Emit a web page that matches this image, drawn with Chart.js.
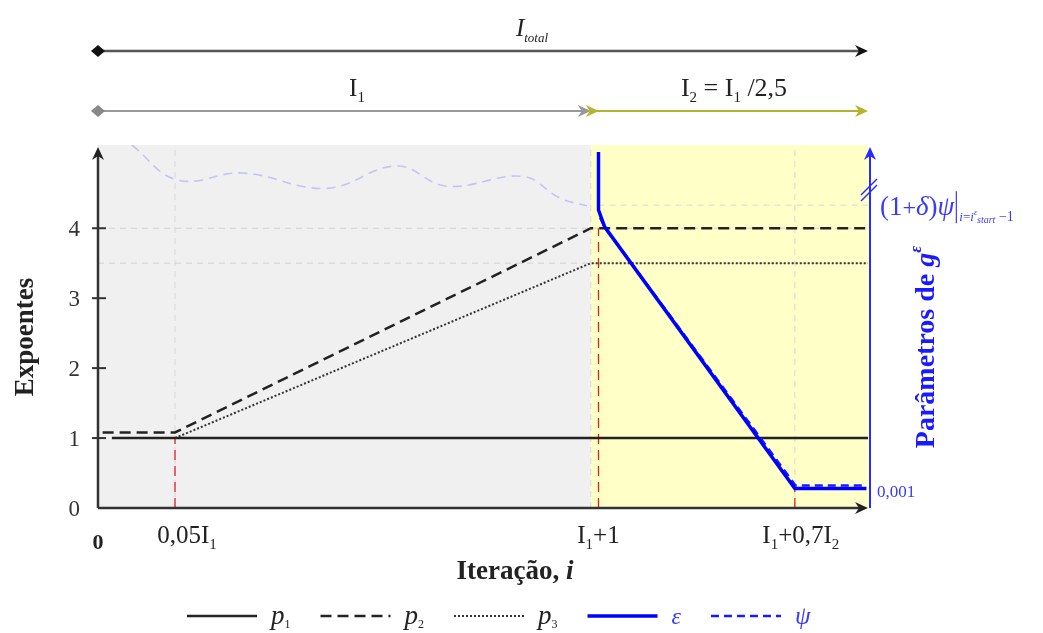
<!DOCTYPE html>
<html>
<head>
<meta charset="utf-8">
<script src="https://cdn.jsdelivr.net/npm/chart.js@4"></script>
<style>html,body{margin:0;padding:0;background:#fff}</style>
</head>
<body>
<canvas id="c" width="1043" height="633"></canvas>
<script>
// schematic x axis: 0 = start, 64 = I1, 100 = end of I_total
const xTickVals = [0, 10, 65, 90.5];
const phaseBreak = 64;
const xEnd = 100;
const yTickVals = [0, 1, 2, 3, 4];

// exponent curves
const p1X = [1.8, 100];
const p1Y = [1, 1];
const p2X = [0.6, 10, 64, 100];
const p2Y = [1.08, 1.08, 4, 4];
const p3X = [10, 64, 100];
const p3Y = [1, 3.5, 3.5];

// g^eps parameters
const epsX = [65, 65, 65.8, 90.5, 99.8];
const epsY = [5.09, 4.26, 4.02, 0.28, 0.28];
const psiX = [65.2, 65.9, 90.6, 99.8];
const psiY = [4.15, 4.0, 0.32, 0.32];
const psiPrevX = [4.4, 10.3, 18.8, 29.7, 38.8, 45.3, 55.2, 60, 63.5];
const psiPrevY = [5.19, 4.69, 4.79, 4.57, 4.89, 4.6, 4.74, 4.43, 4.32];

// guide lines and markers
const gridY = [4, 3.5];
const startLevel = 4.33;
const gridX = [10, 64, 90.5];
const markerX = [10, 65, 90.5];
const markerY = [1, 4, 0.3];

const serif = '"Liberation Serif", "Times New Roman", serif';
const f = (size, style) => (style || '') + ' ' + size + 'px ' + serif;

function pts(xs, ys) {
    return xs.map((x, i) => ({x: x, y: ys[i]}));
}

// draws a row of text pieces (for sub/superscripts)
function rich(ctx, segs, x, y, align, color) {
    let w = 0;
    segs.forEach(s => { ctx.font = s.f; s.w = ctx.measureText(s.t).width; w += s.w; });
    let cx = align === 'center' ? x - w / 2 : (align === 'right' ? x - w : x);
    ctx.fillStyle = color;
    ctx.textAlign = 'left';
    ctx.textBaseline = 'alphabetic';
    segs.forEach(s => { ctx.font = s.f; ctx.fillText(s.t, cx, y + (s.dy || 0)); cx += s.w; });
    return cx;
}

function arrowHead(ctx, x, y, dir, color) {
    ctx.save();
    ctx.translate(x, y);
    ctx.rotate(dir);
    ctx.fillStyle = color;
    ctx.beginPath();
    ctx.moveTo(0, 0);
    ctx.lineTo(-13, -6);
    ctx.lineTo(-9, 0);
    ctx.lineTo(-13, 6);
    ctx.closePath();
    ctx.fill();
    ctx.restore();
}

function diamond(ctx, x, y, color) {
    ctx.fillStyle = color;
    ctx.beginPath();
    ctx.moveTo(x - 7, y);
    ctx.lineTo(x, y - 6);
    ctx.lineTo(x + 7, y);
    ctx.lineTo(x, y + 6);
    ctx.closePath();
    ctx.fill();
}

function hline(ctx, x1, x2, y, color, width, dash) {
    ctx.save();
    ctx.strokeStyle = color;
    ctx.lineWidth = width;
    ctx.setLineDash(dash || []);
    ctx.beginPath();
    ctx.moveTo(x1, y);
    ctx.lineTo(x2, y);
    ctx.stroke();
    ctx.restore();
}

const sub = n => ({t: n, f: f(15), dy: 6});

const datasets = [
    {label: 'ε', legend: [{t: 'ε', f: f(24, 'italic')}], data: pts(epsX, epsY), borderColor: '#0000ff', borderWidth: 3.5},
    {label: 'ψ', legend: [{t: 'ψ', f: f(25, 'italic')}], data: pts(psiX, psiY), borderColor: '#1a1aff', borderWidth: 2.5, borderDash: [8, 5]},
    {label: 'p1', legend: [{t: 'p', f: f(27, 'italic')}, {t: '1', f: f(12), dy: 4}], data: pts(p1X, p1Y), borderColor: '#222', borderWidth: 2.5},
    {label: 'p2', legend: [{t: 'p', f: f(27, 'italic')}, {t: '2', f: f(12), dy: 4}], data: pts(p2X, p2Y), borderColor: '#222', borderWidth: 2.5, borderDash: [11, 6]},
    {label: 'p3', legend: [{t: 'p', f: f(27, 'italic')}, {t: '3', f: f(12), dy: 4}], data: pts(p3X, p3Y), borderColor: '#333', borderWidth: 2, borderDash: [2, 2]},
    {label: 'psiPrev', data: pts(psiPrevX, psiPrevY), borderColor: '#c4c4f4', borderWidth: 1.6, borderDash: [9, 6], tension: 0.4}
];

// red dashed markers down to the x axis
markerX.forEach((x, i) => {
    datasets.push({label: 'm' + i, data: [{x: x, y: 0}, {x: x, y: markerY[i]}], borderColor: '#e02020', borderWidth: 1.3, borderDash: [10, 6]});
});
// light grey guide lines
gridY.forEach((y, i) => {
    datasets.push({label: 'gy' + i, data: [{x: 0, y: y}, {x: xEnd, y: y}], borderColor: '#d2d2d2', borderWidth: 1, borderDash: [6, 5]});
});
datasets.push({label: 'gs', data: [{x: 65, y: startLevel}, {x: xEnd, y: startLevel}], borderColor: '#d8d8d8', borderWidth: 1, borderDash: [6, 5]});
gridX.forEach((x, i) => {
    datasets.push({label: 'gx' + i, data: [{x: x, y: 0}, {x: x, y: 5.19}], borderColor: '#d8d8d8', borderWidth: 1, borderDash: [6, 5]});
});

const drawing = {
    id: 'drawing',
    beforeDatasetsDraw(chart) {
        const ctx = chart.ctx, xs = chart.scales.x, a = chart.chartArea;
        const xb = xs.getPixelForValue(phaseBreak);
        ctx.save();
        ctx.fillStyle = '#f0f0f0';
        ctx.fillRect(a.left, a.top, xb - a.left, a.bottom - a.top);
        ctx.fillStyle = '#ffffc8';
        ctx.fillRect(xb, a.top, a.right - xb, a.bottom - a.top);
        ctx.restore();
    },
    afterDatasetsDraw(chart) {
        const ctx = chart.ctx, xs = chart.scales.x, ys = chart.scales.y, a = chart.chartArea;
        const x0 = xs.getPixelForValue(0), xr = xs.getPixelForValue(xEnd), xb = xs.getPixelForValue(phaseBreak);
        const y0 = ys.getPixelForValue(0);
        ctx.save();

        // right (blue) axis
        ctx.strokeStyle = '#2a2aff';
        ctx.lineWidth = 2;
        ctx.beginPath();
        ctx.moveTo(xr + 2, y0);
        ctx.lineTo(xr + 2, a.top + 6);
        ctx.stroke();
        arrowHead(ctx, xr + 2, a.top + 2, -Math.PI / 2, '#2a2aff');
        // axis break marks
        ctx.lineWidth = 1.5;
        [0, 6].forEach(d => {
            ctx.beginPath();
            ctx.moveTo(xr - 7, a.top + 50 + d);
            ctx.lineTo(xr + 9, a.top + 34 + d);
            ctx.stroke();
        });

        // left and bottom axes
        ctx.strokeStyle = '#333';
        ctx.lineWidth = 2.5;
        ctx.beginPath();
        ctx.moveTo(x0, y0);
        ctx.lineTo(x0, a.top + 6);
        ctx.moveTo(x0, y0);
        ctx.lineTo(xr - 4, y0);
        ctx.stroke();
        arrowHead(ctx, x0, a.top + 2, -Math.PI / 2, '#222');
        arrowHead(ctx, xr, y0, 0, '#222');

        // y ticks
        yTickVals.forEach(v => {
            const y = ys.getPixelForValue(v);
            if (v > 0) hline(ctx, x0 - 6, x0 + 8, y, '#333', 2);
            rich(ctx, [{t: String(v), f: f(23)}], x0 - 18, y + 8, 'right', '#333');
        });

        // x tick labels
        const lab = [
            [{t: '0', f: f(22, 'bold')}],
            [{t: '0,05I', f: f(25)}, sub('1')],
            [{t: 'I', f: f(25)}, sub('1'), {t: '+1', f: f(25)}],
            [{t: 'I', f: f(25)}, sub('1'), {t: '+0,7I', f: f(25)}, sub('2')]
        ];
        const labShift = [0, 12, 0, 6];
        const labBase = [549, 543, 543, 543];
        xTickVals.forEach((v, i) => {
            rich(ctx, lab[i], xs.getPixelForValue(v) + labShift[i], labBase[i], 'center', '#222');
        });

        // axis titles
        rich(ctx, [{t: 'Iteração, ', f: f(27, 'bold')}, {t: 'i', f: f(27, 'bold italic')}], 515, 579, 'center', '#222');
        ctx.save();
        ctx.translate(33, 337);
        ctx.rotate(-Math.PI / 2);
        rich(ctx, [{t: 'Expoentes', f: f(27, 'bold')}], 0, 0, 'center', '#222');
        ctx.restore();
        ctx.save();
        ctx.translate(934, 347);
        ctx.rotate(-Math.PI / 2);
        rich(ctx, [{t: 'Parâmetros de ', f: f(28, 'bold')}, {t: 'g', f: f(28, 'bold italic')}, {t: 'ε', f: f(17, 'bold italic'), dy: -13}], 0, 0, 'center', '#1a1aff');
        ctx.restore();

        // right axis annotations
        rich(ctx, [{t: '0,001', f: f(17)}], xr + 9, y0 - 11, 'left', '#3a3aff');
        const ly = ys.getPixelForValue(startLevel) + 10;
        let cx = rich(ctx, [{t: '(1', f: f(27)}, {t: '+', f: f(24)}, {t: 'δ', f: f(27, 'italic')}, {t: ')', f: f(27)}, {t: 'ψ', f: f(27, 'italic')}], xr + 12, ly, 'left', '#3a3aff');
        ctx.strokeStyle = '#3a3aff';
        ctx.lineWidth = 1.2;
        ctx.beginPath();
        ctx.moveTo(cx + 2, ly - 24);
        ctx.lineTo(cx + 2, ly + 8);
        ctx.stroke();
        rich(ctx, [{t: 'i', f: f(13, 'italic')}, {t: '=', f: f(13)}, {t: 'i', f: f(13, 'italic')}, {t: 'ε', f: f(8, 'italic'), dy: -6}, {t: 'start', f: f(10, 'italic'), dy: 2}, {t: ' −1', f: f(14)}], cx + 5, ly + 6, 'left', '#3a3aff');

        // interval arrows on top
        hline(ctx, x0, xr - 8, 51, '#555', 2.5);
        diamond(ctx, x0, 51, '#111');
        arrowHead(ctx, xr, 51, 0, '#111');
        rich(ctx, [{t: 'I', f: f(25, 'italic')}, {t: 'total', f: f(13, 'italic'), dy: 6}], 532, 36, 'center', '#222');

        hline(ctx, x0, xb - 6, 111, '#999', 2);
        diamond(ctx, x0, 111, '#888');
        arrowHead(ctx, xb, 111, 0, '#999');
        hline(ctx, xb, xr - 8, 111, '#b4b42a', 2);
        arrowHead(ctx, xb + 8, 111, 0, '#b4b42a');
        arrowHead(ctx, xr, 111, 0, '#b4b42a');
        rich(ctx, [{t: 'I', f: f(25)}, sub('1')], 357, 96, 'center', '#222');
        rich(ctx, [{t: 'I', f: f(26)}, sub('2'), {t: ' = I', f: f(26)}, sub('1'), {t: ' /2,5', f: f(26)}], 734, 96, 'center', '#222');

        // legend
        const order = ['p1', 'p2', 'p3', 'ε', 'ψ'];
        let lx = 187;
        order.forEach(name => {
            const ds = chart.data.datasets.find(d => d.label === name);
            hline(ctx, lx, lx + 70, 616, ds.borderColor, ds.borderWidth, ds.borderDash);
            const dark = ds.borderColor === '#222' || ds.borderColor === '#333';
            const end = rich(ctx, ds.legend, lx + 84, 624, 'left', dark ? '#222' : '#3a3aff');
            lx = end + 30;
        });
        ctx.restore();
    }
};

new Chart(document.getElementById('c').getContext('2d'), {
    type: 'scatter',
    data: {datasets: datasets.map(d => Object.assign({showLine: true, pointRadius: 0, fill: false}, d))},
    options: {
        responsive: false,
        animation: false,
        layout: {padding: {left: 98, right: 175, top: 145, bottom: 125}},
        plugins: {legend: {display: false}, tooltip: {enabled: false}},
        scales: {
            x: {type: 'linear', min: 0, max: xEnd, display: false},
            y: {type: 'linear', min: 0, max: 5.19, display: false}
        }
    },
    plugins: [drawing]
});
</script>
</body>
</html>
